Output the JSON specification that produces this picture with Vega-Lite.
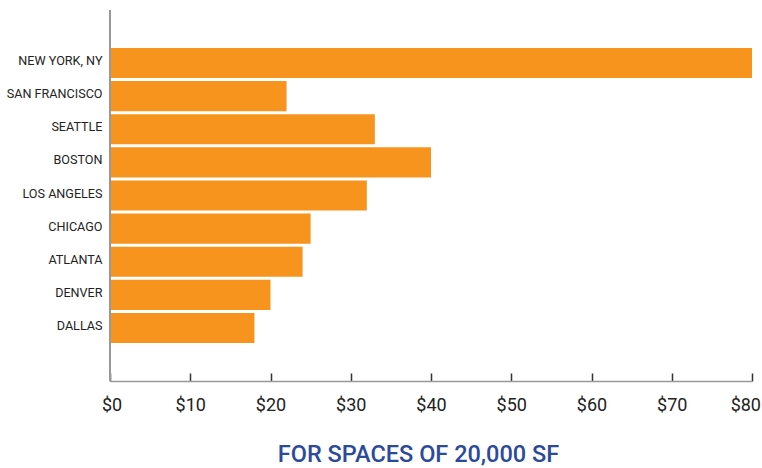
{
  "$schema": "https://vega.github.io/schema/vega-lite/v6.json",
  "width": 642,
  "height": 371,
  "autosize": {"type": "none"},
  "padding": {"left": 110, "top": 10, "right": 10, "bottom": 87},
  "background": "white",
  "config": {"view": {"stroke": null}, "font": "Roboto"},
  "data": {
    "values": [
      {"city": "NEW YORK, NY", "rent": 80},
      {"city": "SAN FRANCISCO", "rent": 22},
      {"city": "SEATTLE", "rent": 33},
      {"city": "BOSTON", "rent": 40},
      {"city": "LOS ANGELES", "rent": 32},
      {"city": "CHICAGO", "rent": 25},
      {"city": "ATLANTA", "rent": 24},
      {"city": "DENVER", "rent": 20},
      {"city": "DALLAS", "rent": 18}
    ]
  },
  "layer": [
    {
      "mark": {"type": "bar", "color": "#F7941E"},
      "encoding": {
        "y": {
          "field": "city",
          "type": "nominal",
          "sort": null,
          "scale": {"range": [36.5, 334.5], "paddingInner": 0.09, "paddingOuter": 0.045},
          "axis": {
            "title": null,
            "domain": false,
            "ticks": false,
            "labelPadding": 8,
            "labelOffset": -2,
            "labelFont": "Roboto",
            "labelFontSize": 12.6,
            "labelColor": "#222222"
          }
        },
        "x": {
          "field": "rent",
          "type": "quantitative",
          "scale": {"domain": [0, 80], "nice": false},
          "axis": {
            "values": [0, 10, 20, 30, 40, 50, 60, 70, 80],
            "format": "$,d",
            "grid": false,
            "labelFlush": true,
            "labelFlushOffset": 8.5,
            "domainColor": "#999999",
            "domainWidth": 1.5,
            "tickColor": "#333333",
            "tickWidth": 1.5,
            "tickSize": -8,
            "labelPadding": 23,
            "labelFont": "Roboto",
            "labelFontSize": 18,
            "labelColor": "#222222",
            "title": "FOR SPACES OF 20,000 SF",
            "titleFont": "Roboto",
            "titleFontSize": 23.5,
            "titleFontWeight": 500,
            "titleColor": "#2B4A9A",
            "titlePadding": 28,
            "titleX": 308
          }
        }
      }
    },
    {
      "mark": {"type": "rule", "color": "#999999", "strokeWidth": 1.5},
      "encoding": {
        "x": {"datum": 0, "type": "quantitative"}
      }
    }
  ]
}
